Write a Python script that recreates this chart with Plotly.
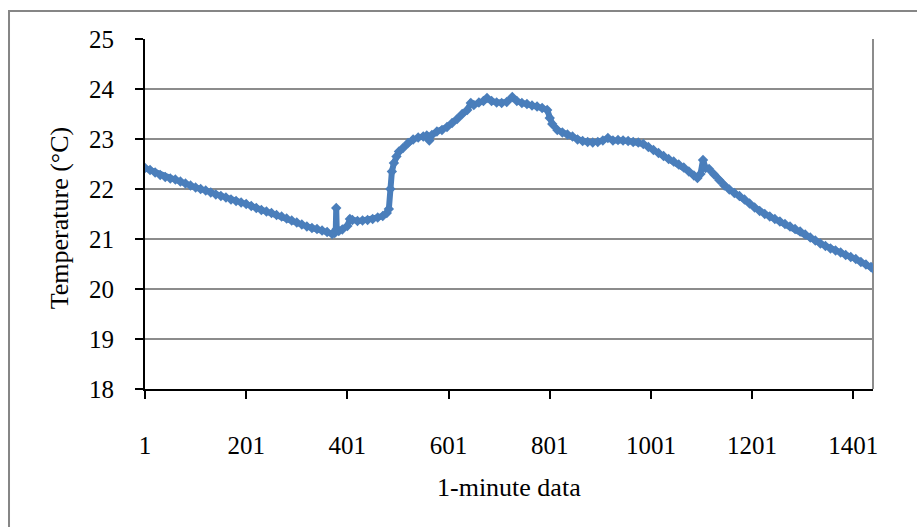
import plotly.graph_objects as go

# 1-minute index (categories) and temperature readings (°C)
minutes = [
    1, 11, 21, 31, 41, 51, 61, 71, 81, 91, 101, 111, 121, 131, 141, 151, 161, 171, 181, 191,
    201, 211, 221, 231, 241, 251, 261, 271, 281, 291, 301, 311, 321, 331, 341, 351, 361, 371,
    376, 378, 379, 380, 384, 391, 401, 406, 411, 421, 431, 441, 451, 461, 471, 479, 483, 486,
    489, 493, 498, 503, 511, 521, 531, 541, 551, 558, 563, 568, 578, 588, 598, 608, 618, 628,
    638, 645, 651, 661, 670, 677, 686, 696, 706, 716, 727, 736, 746, 756, 766, 776, 786, 796,
    801, 806, 816, 826, 836, 846, 856, 866, 876, 886, 896, 906, 916, 926, 936, 946, 956, 966,
    976, 986, 996, 1006, 1016, 1026, 1036, 1046, 1056, 1066, 1076, 1086, 1093, 1099, 1104,
    1109, 1116, 1126, 1136, 1146, 1156, 1166, 1176, 1186, 1196, 1206, 1216, 1226, 1236, 1246,
    1256, 1266, 1276, 1286, 1296, 1306, 1316, 1326, 1336, 1346, 1356, 1366, 1376, 1386, 1396,
    1406, 1416, 1426, 1436, 1440,
]
temperature = [
    22.42, 22.38, 22.33, 22.28, 22.24, 22.21, 22.19, 22.15, 22.11, 22.07, 22.03, 22.00, 21.97,
    21.93, 21.89, 21.86, 21.83, 21.79, 21.76, 21.73, 21.70, 21.66, 21.62, 21.58, 21.55, 21.52,
    21.48, 21.45, 21.41, 21.37, 21.33, 21.29, 21.25, 21.22, 21.20, 21.17, 21.14, 21.10,
    21.12, 21.15, 21.62, 21.20, 21.16, 21.19, 21.26, 21.40, 21.38, 21.36, 21.37, 21.38, 21.40,
    21.43, 21.46, 21.52, 21.60, 22.00,
    22.35, 22.52, 22.65, 22.75, 22.82, 22.92, 22.99, 23.03, 23.05, 23.07, 22.97, 23.08, 23.15,
    23.18, 23.24, 23.32, 23.40, 23.50,
    23.58, 23.72, 23.68, 23.73, 23.76, 23.82, 23.76, 23.73, 23.72, 23.74, 23.84, 23.76, 23.72,
    23.70, 23.67, 23.65, 23.62, 23.58,
    23.42, 23.30, 23.18, 23.13, 23.09, 23.05, 22.99, 22.96, 22.94, 22.93, 22.94, 22.97, 23.02,
    22.97, 22.98, 22.97, 22.96, 22.94,
    22.93, 22.90, 22.84, 22.78, 22.72, 22.66, 22.60, 22.55, 22.49, 22.43, 22.35, 22.27, 22.22,
    22.30, 22.58,
    22.42, 22.40, 22.29, 22.18, 22.07, 21.99, 21.92, 21.86, 21.79, 21.71, 21.63, 21.56, 21.50,
    21.45, 21.40,
    21.35, 21.30, 21.25, 21.20, 21.15, 21.09, 21.03, 20.97, 20.91, 20.86, 20.81, 20.77, 20.73,
    20.68, 20.64,
    20.60, 20.54, 20.49, 20.44, 20.41,
]
x_ticks = [1, 201, 401, 601, 801, 1001, 1201, 1401]
y_ticks = [18, 19, 20, 21, 22, 23, 24, 25]

FONT = "Liberation Serif"
BLUE = "#4A7EBB"
GRID = "#8C8C8C"

fig = go.Figure()
fig.add_trace(go.Scatter(
    x=minutes, y=temperature, mode="lines+markers",
    line=dict(color=BLUE, width=6),
    marker=dict(symbol="diamond", size=8, color=BLUE),
    showlegend=False, hoverinfo="x+y",
))

fig.update_layout(
    width=917, height=527,
    margin=dict(l=145, r=44, t=39, b=138, pad=0),
    paper_bgcolor="white", plot_bgcolor="white",
    font=dict(family=FONT, size=25, color="black"),
    xaxis=dict(
        range=[1, 1440], tickvals=x_ticks, ticktext=[str(v) for v in x_ticks],
        showgrid=False, zeroline=False,
        showline=True, linecolor="black", linewidth=2,
        ticks="outside", ticklen=8, tickwidth=1.5, tickcolor="black",
        ticklabelstandoff=25,
    ),
    yaxis=dict(
        range=[18, 25], tickvals=y_ticks,
        showgrid=True, gridcolor=GRID, gridwidth=1.5, zeroline=False,
        showline=True, linecolor="black", linewidth=2,
        ticks="outside", ticklen=8, tickwidth=1.5, tickcolor="black",
        ticklabelstandoff=16,
    ),
    annotations=[
        dict(text="1-minute data", xref="paper", yref="paper", x=0.5, y=-0.28,
             xanchor="center", yanchor="middle", showarrow=False,
             font=dict(family=FONT, size=26)),
        dict(text="Temperature (°C)", xref="paper", yref="paper", x=-0.117, y=0.49,
             xanchor="center", yanchor="middle", textangle=-90, showarrow=False,
             font=dict(family=FONT, size=26)),
    ],
    shapes=[
        # plot-area right border
        dict(type="line", xref="paper", yref="paper", x0=1, x1=1, y0=0, y1=1,
             line=dict(color=GRID, width=2), layer="below"),
        # outer chart border (right/bottom edges fall outside the image)
        dict(type="rect", xref="paper", yref="paper", x0=-0.1868, x1=1.07, y0=-0.41, y1=1.08,
             line=dict(color="#868686", width=2), fillcolor="rgba(0,0,0,0)", layer="below"),
    ],
)

fig.write_html("out.html")
